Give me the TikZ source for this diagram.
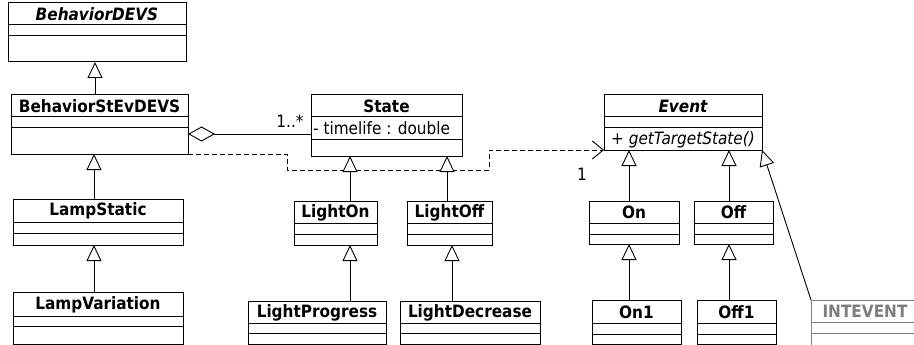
\documentclass[tikz,border=0pt]{standalone}
\usepackage{fontspec}
\setmainfont{DejaVu Sans Condensed}
\usetikzlibrary{arrows.meta,calc}
\definecolor{intgray}{RGB}{125,125,125}
% #1 colour, #2 name, #3 x1, #4 y1, #5 x2, #6 y2, #7 div1, #8 div2, #9 title
\newcommand\umlbox[9][black]{%
  \node[clsbox, draw=#1, anchor=north west, minimum width={#5-#3}, minimum height={#6-#4}] (#2) at (#3,#4) {};
  \draw[divline, draw=#1] (#3,#7) -- (#5,#7);
  \draw[divline, draw=#1] (#3,#8) -- (#5,#8);
  \node[titletext, text=#1] (#2-t) at ({(#3+#5)/2},{(#4+#7)/2+0.5}) {#9};
}
\tikzset{
  clsbox/.style={line width=1pt, inner sep=0pt, outer sep=0pt, fill=white},
  divline/.style={line width=1pt},
  titletext/.style={font=\fontsize{17}{20}\selectfont\bfseries, inner sep=0pt, anchor=center},
  plaintext/.style={font=\fontsize{17}{20}\selectfont, inner sep=0pt},
  gen/.style={line width=0.9pt, -{Triangle[open, fill=white, length=16pt, width=15pt, line width=0.9pt]}},
  agg/.style={line width=0.9pt, {Diamond[open, fill=white, length=27pt, width=15pt, line width=0.9pt]}-},
  dep/.style={line width=0.9pt, dash pattern=on 5pt off 3pt, -{Straight Barb[length=11pt, width=18pt, line width=0.9pt]}},
}
\begin{document}
\begin{tikzpicture}[x=1pt, y=-1pt]
\useasboundingbox (0,0) rectangle (914,345);
% classes joined by the dependency (drawn first so triangles cover it)
\umlbox{bse}{11}{95}{188}{154}{117}{128}{BehaviorStEvDEVS}
\umlbox{ev}{604}{95}{762}{150}{117}{128}{\itshape Event}
\draw[dep] (bse.south east) -| (287,170) -| ($(ev.south west)+(-115,0)$) -- (ev.south west);
% classes
\umlbox{bd}{8}{3}{186}{62}{25}{36}{\itshape BehaviorDEVS}
\umlbox{ls}{13}{199}{183}{245}{222}{233}{LampStatic}
\umlbox{lv}{13}{292}{183}{344}{316}{326}{LampVariation}
\umlbox{st}{311}{95}{462}{156}{117}{139}{State}
\umlbox{lon}{294}{201}{377}{245}{223}{234}{LightOn}
\umlbox{loff}{407}{201}{492}{245}{223}{234}{LightOff}
\umlbox{lp}{248}{301}{386}{344}{323}{333}{LightProgress}
\umlbox{ld}{400}{301}{540}{344}{323}{333}{LightDecrease}
\umlbox{on}{589}{201}{679}{244}{223}{234}{On}
\umlbox{off}{694}{201}{773}{244}{223}{234}{Off}
\umlbox{onone}{592}{300}{681}{344}{323}{334}{On1}
\umlbox{offone}{697}{300}{776}{344}{323}{334}{Off1}
\umlbox[intgray]{inte}{811}{300}{919}{350}{322}{333}{INTEVENT}
% members
\node[plaintext, anchor=west] (stattr) at (313,128.5) {- timelife : double};
\node[plaintext, anchor=west] (evop) at (611,139.5) {\itshape + getTargetState()};
% generalizations
\draw[gen] ([xshift=-4.5pt]bse.north) -- ([xshift=-2pt]bd.south);
\draw[gen] ([xshift=-4pt]ls.north) -- ([xshift=-5.5pt]bse.south);
\draw[gen] ([xshift=-4pt]lv.north) -- ([xshift=-4pt]ls.south);
\draw[gen] ([xshift=14.5pt]lon.north) -- ([xshift=-36.5pt]st.south);
\draw[gen] ([xshift=-2.5pt]loff.north) -- ([xshift=60.5pt]st.south);
\draw[gen] ([xshift=33pt]lp.north) -- ([xshift=14.5pt]lon.south);
\draw[gen] ([xshift=-18pt]ld.north) -- ([xshift=2.5pt]loff.south);
\draw[gen] ([xshift=-5pt]on.north) -- ([xshift=-54pt]ev.south);
\draw[gen] ([xshift=-4.5pt]off.north) -- ([xshift=46pt]ev.south);
\draw[gen] ([xshift=-7.5pt]onone.north) -- ([xshift=-5pt]on.south);
\draw[gen] ([xshift=-7.5pt]offone.north) -- ([xshift=-4.5pt]off.south);
\draw[gen] (inte.north west) -- (ev.south east);
% aggregation
\draw[agg] ([yshift=-9.5pt]bse.east) -- ([yshift=-9.5pt]bse.east -| st.west);
\node[plaintext] (mult1) at (290,121) {1..*};
\node[plaintext] (mult2) at (582,174) {1};
\end{tikzpicture}
\end{document}
